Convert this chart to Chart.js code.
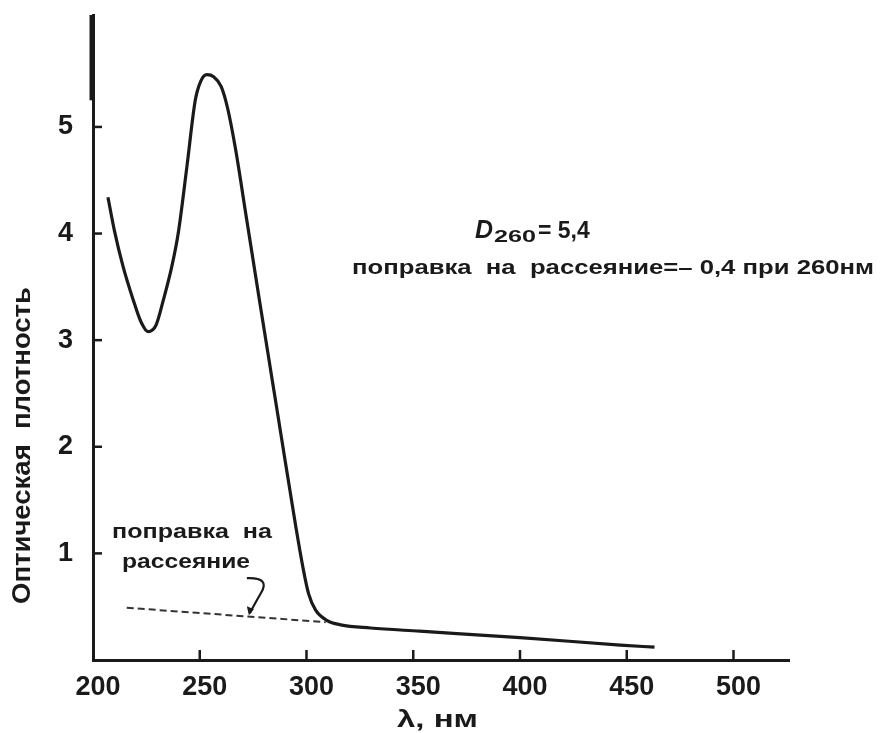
<!DOCTYPE html>
<html lang="ru">
<head>
<meta charset="utf-8">
<title>Оптическая плотность</title>
<script src="https://cdn.jsdelivr.net/npm/chart.js@4.4.1/dist/chart.umd.min.js"></script>
<style>
  html, body { margin: 0; padding: 0; background: #fff; }
  #spectrum { display: block; }
</style>
</head>
<body>
<canvas id="spectrum" width="880" height="733"></canvas>
<script>
// спектр поглощения
const wavelength = [207, 210, 214.1, 218.8, 222.5, 225.8, 229.5, 233, 236.9, 239.9, 244, 247.9, 250.5, 253.4,
  256.5, 260, 263, 266.7, 272, 278, 284, 290, 295, 298.5, 301, 304.2, 309.7, 316, 330, 353, 400, 447, 463];
const density = [4.34, 4.03, 3.69, 3.38, 3.17, 3.08, 3.14, 3.38, 3.69, 4.0, 4.63, 5.25, 5.43, 5.49,
  5.47, 5.38, 5.18, 4.8, 4.13, 3.37, 2.62, 1.87, 1.25, 0.85, 0.62, 0.47, 0.37, 0.33, 0.30, 0.27, 0.21, 0.14, 0.12];

// поправка на рассеяние (пунктир)
const scatterLambda = [215.8, 309];
const scatterDensity = [0.49, 0.355];

const xTicks = [200, 250, 300, 350, 400, 450, 500];
const yTicks = [1, 2, 3, 4, 5];

const INK = '#1a1a1a';
const FONT = "'Liberation Sans', Arial, sans-serif";

function toPoints(xs, ys) {
  return xs.map((x, i) => ({ x: x, y: ys[i] }));
}

// текст, растянутый/сжатый до нужной ширины
function fitText(ctx, text, x, y, width, font) {
  ctx.save();
  ctx.font = font;
  const w = ctx.measureText(text).width;
  ctx.translate(x, y);
  ctx.scale(width / w, 1);
  ctx.textAlign = 'left';
  ctx.textBaseline = 'middle';
  ctx.fillText(text, 0, 0);
  ctx.restore();
}

const decorations = {
  id: 'decorations',
  afterDraw(chart) {
    const ctx = chart.ctx;
    const xs = chart.scales.x;
    const ys = chart.scales.y;
    const area = chart.chartArea;
    ctx.save();
    ctx.strokeStyle = INK;
    ctx.fillStyle = INK;
    ctx.lineCap = 'butt';

    // засечки внутрь
    ctx.lineWidth = 2.5;
    yTicks.forEach(v => {
      const py = ys.getPixelForValue(v);
      ctx.beginPath();
      ctx.moveTo(area.left, py);
      ctx.lineTo(area.left + 9, py);
      ctx.stroke();
    });
    xTicks.slice(1).forEach(v => {
      const px = xs.getPixelForValue(v);
      ctx.beginPath();
      ctx.moveTo(px, area.bottom);
      ctx.lineTo(px, area.bottom - 10);
      ctx.stroke();
    });

    // утолщение оси сверху
    ctx.lineWidth = 5;
    ctx.beginPath();
    ctx.moveTo(area.left - 1, area.top);
    ctx.lineTo(area.left - 1, ys.getPixelForValue(5.25));
    ctx.stroke();

    // подпись оси Y
    ctx.save();
    ctx.translate(23, 446);
    ctx.rotate(-Math.PI / 2);
    fitText(ctx, 'Оптическая  плотность', -158, 0, 317, 'bold 26px ' + FONT);
    ctx.restore();

    // подпись оси X
    fitText(ctx, 'λ, нм', 397, 720, 81, 'bold 24px ' + FONT);

    // D260 = 5,4
    ctx.textBaseline = 'alphabetic';
    ctx.textAlign = 'left';
    ctx.font = 'italic bold 25px ' + FONT;
    ctx.fillText('D', 475, 238);
    fitText(ctx, '260', 494, 238, 42, 'bold 16px ' + FONT);
    ctx.font = 'bold 23px ' + FONT;
    ctx.fillText('= 5,4', 538, 238);

    fitText(ctx, 'поправка  на  рассеяние=– 0,4 при 260нм', 352, 268, 522, 'bold 21px ' + FONT);
    fitText(ctx, 'поправка  на', 112, 532, 160, 'bold 21px ' + FONT);
    fitText(ctx, 'рассеяние', 122, 562, 128, 'bold 21px ' + FONT);

    // стрелка к пунктиру
    const tipX = xs.getPixelForValue(273);
    const tipY = ys.getPixelForValue(0.42);
    ctx.lineWidth = 2.2;
    ctx.beginPath();
    ctx.moveTo(tipX - 2, tipY - 37);
    ctx.quadraticCurveTo(tipX + 22, tipY - 38, tipX + 12, tipY - 22);
    ctx.quadraticCurveTo(tipX + 5, tipY - 10, tipX + 1, tipY - 2);
    ctx.stroke();
    ctx.beginPath();
    ctx.moveTo(tipX, tipY);
    ctx.lineTo(tipX - 2, tipY - 9);
    ctx.lineTo(tipX + 5, tipY - 6);
    ctx.closePath();
    ctx.fill();

    ctx.restore();
  }
};

new Chart(document.getElementById('spectrum'), {
  type: 'line',
  data: {
    datasets: [
      {
        data: toPoints(wavelength, density),
        borderColor: INK,
        borderWidth: 3.2,
        pointRadius: 0,
        cubicInterpolationMode: 'monotone',
        fill: false
      },
      {
        data: toPoints(scatterLambda, scatterDensity),
        borderColor: '#333',
        borderWidth: 2,
        borderDash: [7, 4],
        pointRadius: 0,
        fill: false
      }
    ]
  },
  options: {
    responsive: false,
    animation: false,
    layout: { padding: { top: 15, right: 91, left: 0, bottom: 0 } },
    plugins: { legend: { display: false }, tooltip: { enabled: false } },
    scales: {
      x: {
        type: 'linear',
        min: 200,
        max: 526,
        afterBuildTicks: s => { s.ticks = xTicks.map(v => ({ value: v })); },
        afterFit: s => { s.height = 73; s.paddingLeft = 0; s.paddingRight = 0; },
        grid: { display: false },
        border: { display: true, color: INK, width: 3 },
        ticks: {
          color: INK,
          padding: 3,
          labelOffset: 5,
          maxRotation: 0,
          autoSkip: false,
          font: { family: FONT, size: 27, weight: 'bold' }
        }
      },
      y: {
        type: 'linear',
        min: 0,
        max: 6.05,
        afterBuildTicks: s => { s.ticks = yTicks.map(v => ({ value: v })); },
        afterFit: s => { s.width = 93; s.paddingTop = 0; s.paddingBottom = 0; },
        grid: { display: false },
        border: { display: true, color: INK, width: 3 },
        ticks: {
          color: INK,
          padding: 12,
          font: { family: FONT, size: 27, weight: 'bold' }
        }
      }
    }
  },
  plugins: [decorations]
});
</script>
</body>
</html>
